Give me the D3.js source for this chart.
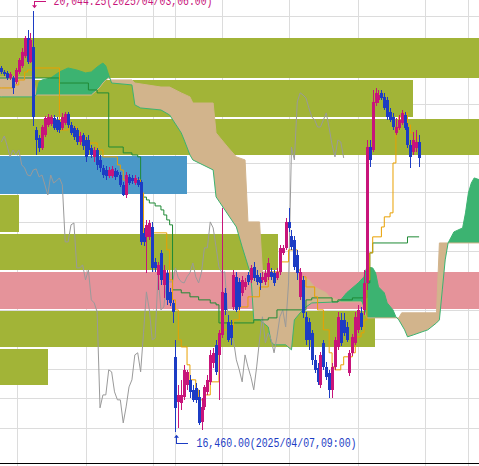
<!DOCTYPE html>
<html><head><meta charset="utf-8">
<script src="https://cdn.jsdelivr.net/npm/d3@7"></script>
<style>html,body{margin:0;padding:0;background:#fff;overflow:hidden}</style>
</head><body>
<svg id="c" width="479" height="466"></svg>
<script>
// ---- hourly candles (index 0..144) ----
const openP=[19558,19524,19516,19473,19473,19439,19524,19575,19660,19813,19609,19736,19031,18963,18878,18988,19074,19082,19133,19116,19099,19048,19090,19167,19074,19048,19031,18929,18988,18946,18946,18878,18802,18861,18776,18708,18691,18640,18640,18682,18674,18648,18564,18478,18632,18623,18580,18606,18589,18156,18122,18122,18206,17909,17798,17986,17714,17816,17654,17560,17102,16719,16710,16762,16864,16906,16821,16838,16762,16549,16676,16804,16889,17050,17204,17118,17288,17646,17399,17374,17526,17782,17739,17646,17696,17798,17756,17866,17798,17782,17756,17739,17782,17824,17816,17773,17824,17986,18028,18249,18130,18096,17968,17612,17756,17442,17399,17306,17076,17008,16864,17220,17016,16966,16821,17016,17186,17416,17416,17356,16966,17136,17220,17331,17476,17501,17730,18886,18861,19260,19286,19346,19312,19286,19184,19142,19006,19048,19090,19158,19056,18904,18844,18878,18929];
const highP=[19575,19541,19532,19524,19490,19558,19643,19728,19830,19881,19856,20044.25,19056,18988,19074,19150,19167,19158,19158,19142,19116,19176,19184,19184,19099,19065,19048,19014,19006,18972,18988,18904,18886,18878,18818,18734,18725,18716,18725,18708,18691,18674,18589,18674,18657,18648,18648,18632,18606,18198,18266,18266,18249,17943,17909,18011,17884,17841,17688,17586,17246,16864,16906,17034,16991,16948,16864,16880,16821,16753,16864,16948,17161,17178,17246,17331,18368,17688,17458,17416,17841,17824,17773,17790,17773,17824,17884,17909,17841,17816,17824,17841,17943,17858,17841,17858,18054,18054,18283,18368,18181,18130,18011,17858,17790,17484,17433,17331,17118,17050,17144,17246,17059,16991,17050,17272,17484,17476,17476,17399,17161,17297,17484,17544,17526,17841,18946,18946,19371,19388,19371,19371,19346,19311,19218,19176,19133,19158,19201,19184,19090,18946,19014,19031,18988];
const lowP=[19507,19490,19456,19456,19337,19422,19507,19558,19643,19592,19600,19065,18818,18844,18861,18972,19056,19065,19031,19014,19006,19031,19074,19048,18988,18946,18904,18904,18861,18759,18818,18793,18759,18691,18674,18623,18606,18623,18623,18606,18632,18546,18470,18453,18564,18572,18564,18546,18054,18045,17816,18096,17824,17824,17671,17714,17603,17544,17535,17390,16460,16498,16651,16736,16821,16753,16719,16710,16524,16481,16651,16778,16864,17008,16948,16736,17263,17458,17229,17204,17501,17484,17501,17620,17671,17714,17730,17748,17714,17671,17730,17714,17756,17756,17705,17756,17798,17968,18011,18164,18011,17841,17756,17586,17433,17204,17161,17034,16966,16864,16838,16991,16906,16753,16753,16991,17161,17195,17280,17229,16940,17110,17204,17306,17331,17458,17671,18716,18844,19235,19260,19286,19201,19116,19099,19031,18988,19031,19074,19031,18878,18708,18818,18844,18716];
const closeP=[19524,19507,19473,19507,19388,19541,19626,19694,19813,19609,19796,19142,18946,18878,19056,19133,19142,19142,19048,19031,19031,19142,19167,19074,19006,18972,18929,18980,18895,18802,18861,18818,18861,18734,18708,18648,18640,18691,18700,18632,18648,18564,18478,18648,18580,18598,18623,18564,18079,18079,18224,18240,17858,17858,17884,17756,17841,17586,17560,17484,16668,16778,16778,16991,16974,16804,16736,16736,16540,16676,16846,16906,17118,17136,16974,17306,17654,17501,17246,17263,17798,17501,17526,17756,17739,17739,17858,17773,17739,17730,17782,17816,17900,17782,17730,17824,18028,18028,18249,18198,18036,17866,17816,17824,17476,17246,17246,17076,16991,16889,17118,17016,16932,16821,17016,17246,17442,17220,17306,17246,17136,17272,17442,17501,17356,17730,18886,18776,19269,19346,19328,19303,19218,19142,19116,19056,19056,19116,19176,19048,18904,18802,18946,18929,18793];
const highIdx=11, lowIdx=60;
const highLabel="20,044.25(2025/04/03,06:00)";
const lowLabel="16,460.00(2025/04/07,09:00)";

// ---- Ichimoku lines (vertices: index, price) ----
const tenkanIdx=[-1,0,4,6,8,9,11,20,23,26,27,29,33,35,40,41,42,48,49,57,58,59,60,61,62,64,65,67,68,70,72,75,76,80,82,85,89,92,96,99,102,103,105,108,109,111,113,114,115,117,118,121,122,124,125,126,127,128,131,132,134,135,136,137,138,140,141,142,144];
const tenkanVal=[19388,19388,19414,19456,19524,19541,19558,19031,19056,19006,18963,18920,18861,18802,18734,18691,18606,18496,18156,18011,17756,17586,17501,17246,17186,17034,16906,16821,16736,16778,16889,17306,17331,17416,17526,17612,17696,17824,17909,18011,17841,17782,17696,17612,17501,17331,17136,17016,16991,17034,17102,17136,17272,17306,17416,17756,17986,18122,18206,18292,18326,18750,19031,19142,19176,19074,19006,18963,18963];
const kijunIdx=[-1,20,30,33,37,42,45,47,48,49,50,51,53,55,56,57,58,59,62,65,68,72,74,75,87,92,95,105,107,114,116,121,126,127,128,140,144];
const kijunVal=[19473,19430,19371,19346,18886,18836,18818,18802,18478,18460,18436,18410,18385,18351,18308,18266,18224,17671,17646,17612,17586,17560,17544,17390,17416,17433,17501,17586,17603,17569,17586,17603,17730,17986,18070,18122,18122];
const spanAIdx=[-1,0,11,12,13,14,17,20,23,26,29,31,33,34,35,36,37,38,45,46,48,55,58,62,63,65,66,73,74,81,83,86,87,89,92,93,94,98,100,101,103,105,107,116,117,119,123,125,126,128,129,130,132,133,135,136,137,139,140,142,145,147,150,151,152,153,154,156,159,160,161,162,163,165];
const spanAVal=[19312,19312,19312,19328,19439,19456,19473,19524,19558,19541,19516,19524,19566,19584,19600,19575,19498,19430,19414,19244,19218,19201,19158,19006,18946,18818,18776,18691,18462,18206,18036,17798,17416,17416,17356,17229,17204,17204,17161,17416,17476,17526,17560,17569,17586,17646,17730,17782,17866,17858,17816,17696,17646,17560,17501,17442,17416,17331,17272,17288,17314,17331,17390,17416,17671,17926,18070,18164,18198,18326,18496,18580,18623,18606];
const spanBIdx=[-1,0,11,12,31,33,34,35,36,37,38,45,46,55,58,62,65,66,73,74,78,81,84,85,89,90,101,106,108,112,113,116,117,124,126,137,138,150,151,165];
const spanBVal=[19482,19482,19482,19328,19328,19371,19396,19430,19456,19473,19456,19456,19430,19396,19396,19346,19312,19260,19260,19006,18886,18802,18776,18249,18249,17824,17816,17756,17696,17646,17612,17586,17569,17569,17433,17433,17476,17476,18070,18070];
const chikouShift=26;

// ---- price-band volume profile ----
const bandHigh=[19813,19456,19125,18810,18478,18147,17824,17492,17170];
const bandLow=[19473,19142,18818,18487,18164,17841,17510,17186,16863];
const bandVol=[120,86.2,125,39,4,58,130,78.3,10];
const bandKind=["n","n","n","cur","n","n","poc","n","n"];

// ---- grid ----
const gridIdx=[5.4,29.2,52.3,59.9,76.1,99.2,123,146.1,160.9];
const gridVals=[16500,16750,17000,17250,17500,17750,18000,18250,18500,18750,19000,19250,19500,19750,20000];

// ================= drawing =================
const W=479,H=466,AX=463;
const svg=d3.select("#c");
const x=d3.scaleLinear().domain([0,144]).range([1.4,419.1]);
const y=d3.scaleLinear().domain([16199,20136]).range([AX,0]);
const vx=d3.scaleLinear().domain([0,100]).range([0,479]);

const C={grid:"#dcdcdc",olive:"#a2b437",cur:"#4a98c8",poc:"#e5939a",green:"#3cb371",tan:"#d2b48c",
  tenkan:"#e9a000",kijun:"#1f8a35",chikou:"#9a9a9a",up:"#c8147a",dn:"#1c3cc4"};

svg.append("rect").attr("width",W).attr("height",H).attr("fill","#fff");
svg.append("defs").append("clipPath").attr("id","plot").append("rect").attr("width",W).attr("height",AX);

const grid=svg.append("g").attr("shape-rendering","crispEdges").attr("stroke",C.grid);
grid.selectAll("line.v").data(gridIdx).join("line").attr("class","v")
  .attr("x1",d=>Math.round(x(d))+0.5).attr("x2",d=>Math.round(x(d))+0.5).attr("y1",0).attr("y2",H);
grid.selectAll("line.h").data(gridVals).join("line").attr("class","h")
  .attr("x1",0).attr("x2",W).attr("y1",d=>Math.round(y(d))+0.5).attr("y2",d=>Math.round(y(d))+0.5);

const plot=svg.append("g").attr("clip-path","url(#plot)");

// bands
const bands=bandHigh.map((h,i)=>({h,l:bandLow[i],v:bandVol[i],k:bandKind[i]}));
plot.append("g").attr("shape-rendering","crispEdges").selectAll("rect").data(bands).join("rect")
  .attr("x",0).attr("width",d=>vx(d.v))
  .attr("y",d=>y(d.h)).attr("height",d=>y(d.l)-y(d.h))
  .attr("fill",d=>d.k==="cur"?C.cur:d.k==="poc"?C.poc:C.olive);

// cloud
const A=spanAIdx.map((i,k)=>({i,v:spanAVal[k]}));
const B=spanBIdx.map((i,k)=>({i,v:spanBVal[k]}));
const below=d3.area().x(d=>x(d.i)).y0(AX).y1(d=>y(d.v));
const above=d3.area().x(d=>x(d.i)).y0(0).y1(d=>y(d.v));
const defs=svg.select("defs");
defs.append("clipPath").attr("id","aboveB").append("path").attr("d",above(B));
defs.append("clipPath").attr("id","aboveA").append("path").attr("d",above(A));
plot.append("path").attr("d",below(A)).attr("fill",C.green).attr("clip-path","url(#aboveB)");
plot.append("path").attr("d",below(B)).attr("fill",C.tan).attr("clip-path","url(#aboveA)");
const ln=d3.line().x(d=>x(d.i)).y(d=>y(d.v));
plot.append("path").attr("d",ln(B)).attr("fill","none").attr("stroke",C.tan).attr("stroke-width",1);
plot.append("path").attr("d",ln(A)).attr("fill","none").attr("stroke",C.green).attr("stroke-width",1);

// chikou span (close shifted back)
const chik=closeP.map((c,i)=>({i:i-chikouShift,v:c})).filter(d=>d.i>=0);
plot.append("path").attr("d",ln(chik)).attr("fill","none").attr("stroke",C.chikou).attr("stroke-width",1);

// tenkan / kijun
const stepLn=d3.line().curve(d3.curveStepAfter).x(d=>x(d.i)).y(d=>y(d.v));
const T=tenkanIdx.map((i,k)=>({i,v:tenkanVal[k]}));
const K=kijunIdx.map((i,k)=>({i,v:kijunVal[k]}));
plot.append("path").attr("d",stepLn(K)).attr("fill","none").attr("stroke",C.kijun).attr("stroke-width",1);
plot.append("path").attr("d",stepLn(T)).attr("fill","none").attr("stroke",C.tenkan).attr("stroke-width",1);

// candles
const cd=openP.map((o,i)=>({i,o,h:highP[i],l:lowP[i],c:closeP[i]}));
const cg=plot.append("g").attr("shape-rendering","crispEdges");
cg.selectAll("line").data(cd).join("line")
  .attr("x1",d=>Math.round(x(d.i))+0.5).attr("x2",d=>Math.round(x(d.i))+0.5)
  .attr("y1",d=>y(d.h)).attr("y2",d=>y(d.l))
  .attr("stroke",d=>d.c>=d.o?C.up:C.dn).attr("stroke-width",1);
cg.selectAll("rect").data(cd).join("rect")
  .attr("x",d=>Math.round(x(d.i))-1).attr("width",3)
  .attr("y",d=>y(Math.max(d.o,d.c))).attr("height",d=>Math.max(1,Math.abs(y(d.o)-y(d.c))))
  .attr("fill",d=>d.c>=d.o?C.up:C.dn);

// bottom axis line
svg.append("line").attr("x1",0).attr("x2",W).attr("y1",AX+0.5).attr("y2",AX+0.5)
  .attr("stroke","#000").attr("stroke-width",1).attr("shape-rendering","crispEdges");

// high / low markers
const fnt="'Liberation Mono','DejaVu Sans Mono',monospace";
const hx=Math.round(x(highIdx))+1.5, hy=y(highP[highIdx]);
const hg=svg.append("g").attr("stroke",C.up).attr("fill","none").attr("shape-rendering","crispEdges");
hg.append("path").attr("d",`M${hx+11},${hy-9}H${hx}V${hy-4}`);
svg.append("path").attr("d",`M${hx-2.5},${hy-5.5}L${hx+2.5},${hy-5.5}L${hx},${hy-2.5}Z`).attr("fill",C.up);
svg.append("text").attr("x",hx+19).attr("y",hy-5.5).attr("font-family",fnt).attr("font-size",13)
  .attr("fill",C.up).attr("textLength",159).attr("lengthAdjust","spacingAndGlyphs").text(highLabel);

const lx=Math.round(x(lowIdx))+1.5, ly=y(lowP[lowIdx]);
const lg=svg.append("g").attr("stroke",C.dn).attr("fill","none").attr("shape-rendering","crispEdges");
lg.append("path").attr("d",`M${lx},${ly+5}V${ly+11}H${lx+11}`);
svg.append("path").attr("d",`M${lx-2.5},${ly+5.5}L${lx+2.5},${ly+5.5}L${lx},${ly+2.5}Z`).attr("fill",C.dn);
svg.append("text").attr("x",lx+20).attr("y",ly+15).attr("font-family",fnt).attr("font-size",13)
  .attr("fill",C.dn).attr("textLength",160).attr("lengthAdjust","spacingAndGlyphs").text(lowLabel);
</script>
</body></html>
